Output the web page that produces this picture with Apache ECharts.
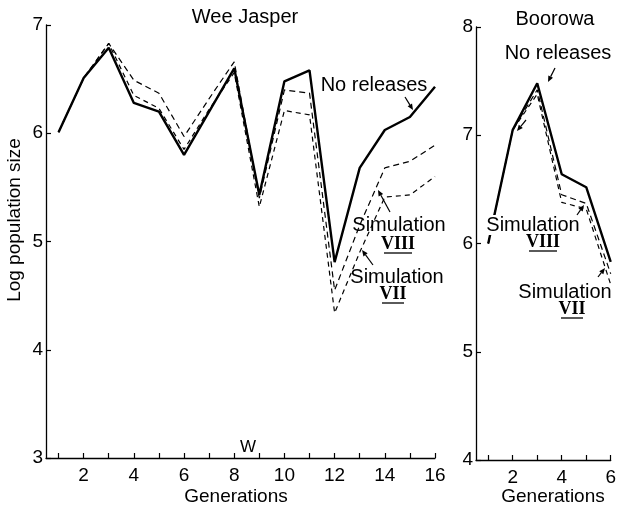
<!DOCTYPE html>
<html><head><meta charset="utf-8">
<script src="https://cdn.jsdelivr.net/npm/echarts@6/dist/echarts.min.js"></script>
<style>html,body{margin:0;padding:0;background:#fff}#c{width:619px;height:510px}</style>
</head><body><div id="c"></div>
<script>
// Wee Jasper (left panel)
const wjGenerations = [1,2,3,4,5,6,7,8,9,10,11,12,13,14,15,16];
const wjNoReleases  = [6.01,6.51,6.79,6.28,6.20,5.80,6.20,6.60,5.43,6.48,6.58,4.81,5.68,6.03,6.15,6.43];
const wjSimVIII     = [6.01,6.51,6.83,6.49,6.37,5.97,6.32,6.66,5.40,6.40,6.37,4.55,5.15,5.68,5.74,5.89];
const wjSimVII      = [6.01,6.51,6.83,6.35,6.23,5.85,6.22,6.56,5.32,6.21,6.17,4.34,4.90,5.41,5.43,5.60];
// Boorowa (right panel)
const bGenerations = [1,2,3,4,5,6];
const bNoReleases  = [6.00,7.05,7.48,6.64,6.52,5.83];
const bSimVIII     = [6.00,7.05,7.42,6.45,6.37,5.72];
const bSimVII      = [6.00,7.05,7.38,6.38,6.32,5.62];
// ticks
const wjXTicks = [1,2,3,4,5,6,7,8,9,10,11,12,13,14,15,16];
const wjXLabels = [2,4,6,8,10,12,14,16];
const bXTicks = [1,2,3,4,5,6];
const bXLabels = [2,4,6];

const FONT = 'Liberation Sans';
const zip = (xs, ys) => xs.map((x,i)=>[x, ys[i]]);

function xAx(gridIndex, max, ticks, labels){
  return {type:'value', gridIndex, min:0.5, max,
    axisLine:{show:true, lineStyle:{color:'#000', width:1.3}},
    axisTick:{show:true, inside:true, length:5, customValues:ticks, lineStyle:{color:'#000', width:1.2}},
    axisLabel:{show:true, customValues:labels, color:'#000', fontSize:19, fontFamily:FONT, margin:8},
    splitLine:{show:false}};
}
function yAx(gridIndex, min, max){
  return {type:'value', gridIndex, min, max, interval:1,
    axisLine:{show:true, lineStyle:{color:'#000', width:1.3}},
    axisTick:{show:true, inside:true, length:5, lineStyle:{color:'#000', width:1.2}},
    axisLabel:{show:true, color:'#000', fontSize:19, fontFamily:FONT, margin:3},
    splitLine:{show:false}};
}
function ser(xi, data, type, width){
  return {type:'line', xAxisIndex:xi, yAxisIndex:xi, data, symbol:'none', silent:true,
    lineStyle:{color:'#000', width, type}};
}
function arrow(x1,y1,x2,y2){
  const a = Math.atan2(y2-y1, x2-x1), L=6, W=2.6;
  const bx = x2 - L*Math.cos(a), by = y2 - L*Math.sin(a);
  const px = -Math.sin(a)*W, py = Math.cos(a)*W;
  return [
    {type:'line', z:10, shape:{x1,y1,x2:bx,y2:by}, style:{stroke:'#000', lineWidth:1.2}},
    {type:'polygon', z:10, shape:{points:[[x2,y2],[bx+px,by+py],[bx-px,by-py]]}, style:{fill:'#000'}}
  ];
}
function txt(x,y,text,size,opts){
  opts = opts || {};
  return {type:'text', x, y, z:10, style:Object.assign({text, fill:'#000', fontSize:size||20, fontFamily:FONT,
    align:'center', verticalAlign:'middle'}, opts)};
}
function roman(x,y,text){
  return txt(x,y,text,18,{fontFamily:'Liberation Serif', fontWeight:'bold'});
}
function uline(x1,x2,y){
  return {type:'line', z:10, shape:{x1,y1:y,x2,y2:y}, style:{stroke:'#000', lineWidth:1.3}};
}

const chart = echarts.init(document.getElementById('c'));
chart.setOption({
  animation:false,
  backgroundColor:'#fff',
  grid:[
    {left:46, right:184, top:25, bottom:52},
    {left:476, right:5, top:27, bottom:50}
  ],
  xAxis:[xAx(0,16,wjXTicks,wjXLabels), xAx(1,6,bXTicks,bXLabels)],
  yAxis:[yAx(0,3,7), yAx(1,4,8)],
  series:[
    ser(0, zip(wjGenerations, wjSimVIII), [6,4], 1.2),
    ser(0, zip(wjGenerations, wjSimVII), [5,4], 1.2),
    ser(0, zip(wjGenerations, wjNoReleases), 'solid', 2.4),
    ser(1, zip(bGenerations, bSimVIII), [6,4], 1.2),
    ser(1, zip(bGenerations, bSimVII), [5,4], 1.2),
    ser(1, zip(bGenerations, bNoReleases), 'solid', 2.4)
  ],
  graphic:[
    txt(245,17,'Wee Jasper',20),
    txt(555,19,'Boorowa',20),
    {type:'text', x:15, y:220, rotation:Math.PI/2, style:{text:'Log population size', fill:'#000', fontSize:19, fontFamily:FONT, align:'center', verticalAlign:'middle'}},
    txt(236,497,'Generations',19),
    txt(553,497,'Generations',19),
    txt(248,447,'W',17),
    txt(374,85,'No releases',20),
    txt(558,53,'No releases',20),
    txt(399,225,'Simulation',20),
    roman(398,244,'VIII'), uline(384,412,253),
    txt(397,277,'Simulation',20),
    roman(393,294,'VII'), uline(382,404,303),
    txt(533,225,'Simulation',20,{backgroundColor:'#fff', padding:[0,1]}),
    roman(543,242,'VIII'), uline(529,557,251),
    txt(565,292,'Simulation',20),
    roman(572,309,'VII'), uline(561,583,318),
    ...arrow(405,97,413,110),
    ...arrow(555,68,548,82),
    ...arrow(390,212,378,190),
    ...arrow(373,265,362,250),
    ...arrow(577,215,584,205),
    ...arrow(598,277,605,268),
    ...arrow(526,120,517,131)
  ]
});
</script></body></html>
